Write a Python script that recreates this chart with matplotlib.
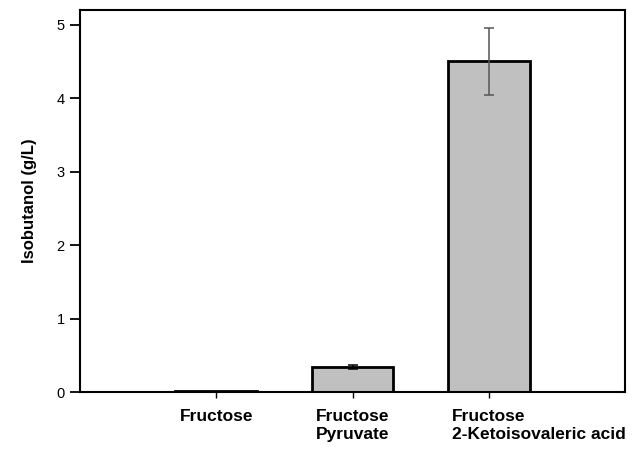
import numpy as np
import matplotlib
matplotlib.use("Agg")
import matplotlib.pyplot as plt

plt.rcParams['font.family'] = ['Liberation Sans', 'DejaVu Sans']

conditions = ['Fructose', 'Fructose', 'Fructose']
second_line = ['', 'Pyruvate', '2-Ketoisovaleric acid']
isobutanol = [0.02, 0.34, 4.50]
errors = [0.0, 0.03, 0.46]
err_colors = ['black', 'black', '#555555']

fig = plt.figure(figsize=(6.34, 4.58), dpi=100)
ax = fig.add_axes([0.126, 0.144, 0.860, 0.834])

x = np.arange(1, len(isobutanol) + 1)
ax.bar(x, isobutanol, width=0.6, color='#c0c0c0', edgecolor='black', linewidth=2, zorder=2)
for xi, v, e, c in zip(x, isobutanol, errors, err_colors):
    if e > 0:
        ax.errorbar(xi, v, yerr=e, fmt='none', ecolor=c, elinewidth=1.1,
                    capsize=3.5, capthick=1.1, zorder=3)

ax.set_xlim(0, 4)
ax.set_ylim(0, 5.2)
ax.set_yticks([0, 1, 2, 3, 4, 5])
ax.set_xticks(x)
ax.set_xticklabels(conditions, fontsize=12.5, fontweight='bold')
ax.tick_params(axis='y', direction='out', length=7, width=1.3, labelsize=10.5, pad=4)
ax.tick_params(axis='x', direction='out', length=4, width=1, pad=8)
for s in ax.spines.values():
    s.set_linewidth(1.5)
ax.set_ylabel('Isobutanol (g/L)', fontsize=12, fontweight='bold', labelpad=14)

# second line of x labels, left aligned with the first line
fig.canvas.draw()
r = fig.canvas.get_renderer()
for lab, txt in zip(ax.get_xticklabels(), second_line):
    if not txt:
        continue
    bb = lab.get_window_extent(r)
    ax.annotate(txt, xy=(bb.x0, bb.y0 - 3), xycoords='figure pixels',
                ha='left', va='top', fontsize=12.5, fontweight='bold',
                annotation_clip=False)

fig.savefig('out.png', dpi=100)
